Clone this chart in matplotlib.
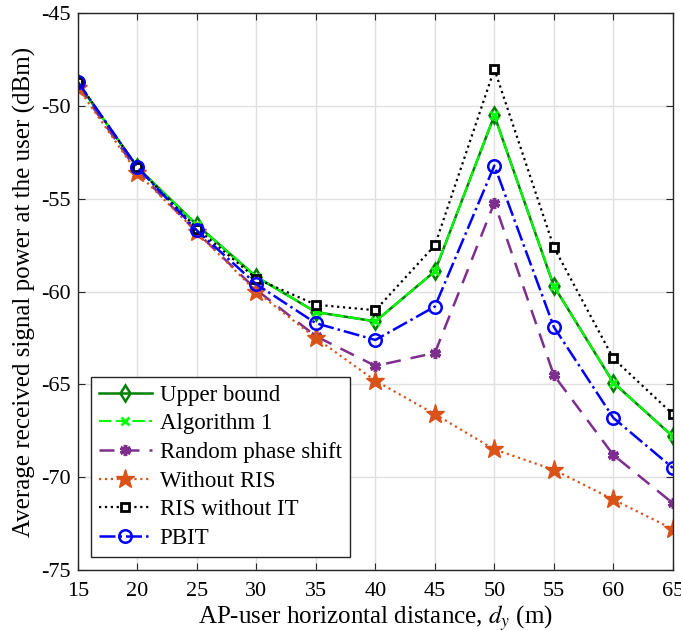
import matplotlib
matplotlib.use("Agg")
from matplotlib import pyplot as plt
import numpy as np

plt.rcParams['font.family'] = ['Liberation Serif', 'DejaVu Serif']
plt.rcParams['mathtext.fontset'] = 'stix'

distance = [15, 20, 25, 30, 35, 40, 45, 50, 55, 60, 65]
upper_bound = [-48.75, -53.3, -56.4, -59.2, -61.1, -61.6, -58.9, -50.5, -59.7, -64.9, -67.8]
algorithm_1 = [-48.75, -53.3, -56.4, -59.2, -61.1, -61.6, -58.9, -50.5, -59.7, -64.9, -67.8]
random_phase = [-48.9, -53.5, -56.8, -59.9, -62.4, -64.0, -63.3, -55.2, -64.5, -68.8, -71.4]
without_ris = [-49.0, -53.6, -56.8, -60.0, -62.5, -64.8, -66.6, -68.5, -69.6, -71.2, -72.8]
ris_without_it = [-48.7, -53.3, -56.6, -59.3, -60.7, -61.0, -57.5, -48.0, -57.6, -63.6, -66.6]
pbit = [-48.7, -53.3, -56.7, -59.6, -61.7, -62.6, -60.8, -53.2, -61.9, -66.8, -69.5]

fig = plt.figure(figsize=(6.81, 6.31), dpi=100)
ax = fig.add_axes([0.1145, 0.0967, 0.8735, 0.882])

ax.plot(distance, upper_bound, color=(0, 0.5, 0), linestyle='-', linewidth=1.8,
        marker='d', markersize=8, markerfacecolor='none', markeredgewidth=1.8, label='Upper bound')
ax.plot(distance, algorithm_1, color=(0, 1, 0), linestyle='--', dashes=(6, 2), linewidth=1.5,
        marker='x', markersize=6, markeredgewidth=2, label='Algorithm 1')
ax.plot(distance, random_phase, color=(0.49, 0.18, 0.56), linestyle='--', dashes=(6, 4), linewidth=1.8,
        marker=(6, 2, 0), markersize=8, markeredgewidth=2.5, label='Random phase shift')
ax.plot(distance, without_ris, color=(0.85, 0.325, 0.098), linestyle=':', linewidth=1.6,
        marker='*', markersize=14, label='Without RIS')
ax.plot(distance, ris_without_it, color='black', linestyle=':', linewidth=1.6,
        marker='s', markersize=6, markerfacecolor='white', markeredgewidth=2, label='RIS without IT')
ax.plot(distance, pbit, color=(0, 0, 1), linestyle='-.', linewidth=1.8,
        marker='o', markersize=9, markerfacecolor='none', markeredgewidth=1.8, label='PBIT')

ax.set_xlim(15, 65)
ax.set_ylim(-75, -45)
xt = np.arange(15, 66, 5)
yt = np.arange(-75, -44, 5)
ax.set_xticks(xt)
ax.set_xticklabels([str(v) for v in xt])
ax.set_yticks(yt)
ax.set_yticklabels([str(v) for v in yt])
ax.tick_params(direction='in', top=True, right=True, labelsize=16, length=5, color='#262626')
ax.tick_params(axis='x', pad=9)
ax.tick_params(axis='y', pad=5)
ax.grid(True, color='#e0e0e0', linewidth=1)
ax.set_axisbelow(True)
for s in ax.spines.values():
    s.set_color('#262626')
    s.set_linewidth(1)

ax.set_xlabel('AP-user horizontal distance, $d_y$ (m)', fontsize=18, labelpad=1)
ax.set_ylabel('Average received signal power at the user (dBm)', fontsize=18, labelpad=4)

leg = ax.legend(loc='lower left', fontsize=16.5, fancybox=False, framealpha=1,
                edgecolor='#262626', borderpad=0.35, labelspacing=0.33, handlelength=2.3,
                handletextpad=0.35, borderaxespad=0.57)
leg.get_frame().set_linewidth(1)

fig.savefig('out.png', dpi=100)
